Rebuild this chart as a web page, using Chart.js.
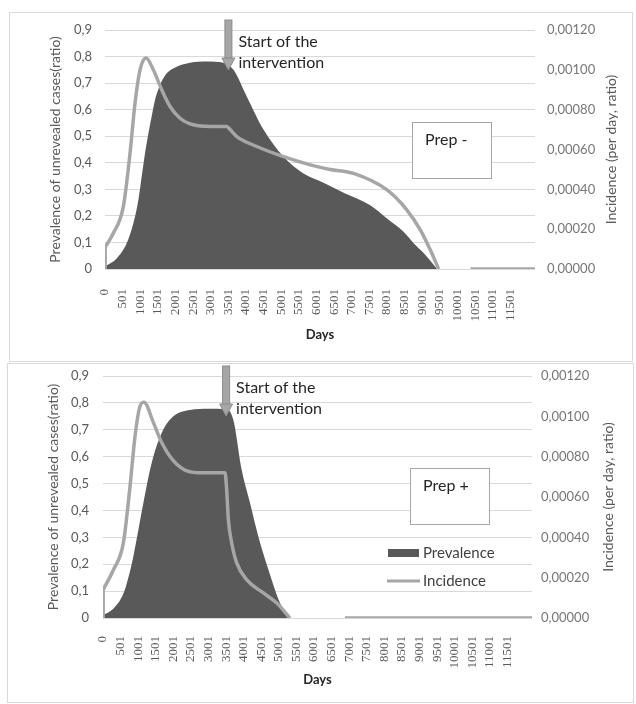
<!DOCTYPE html>
<html>
<head>
<meta charset="utf-8">
<script src="https://cdn.jsdelivr.net/npm/chart.js@4.4.0/dist/chart.umd.min.js"></script>
<style>
  body { margin: 0; background: #fff; width: 636px; height: 704px; position: relative; overflow: hidden; }
  .box { position: absolute; border: 1px solid #d9d9d9; box-sizing: border-box; background: #fff; }
  canvas { position: absolute; left: 0; top: 0; }
</style>
</head>
<body>
<div class="box" style="left:9px;top:12px;width:624px;height:350px"><canvas id="topChart" width="622" height="348"></canvas></div>
<div class="box" style="left:7px;top:363px;width:627px;height:340px"><canvas id="bottomChart" width="625" height="338"></canvas></div>
<script>
// x axis (days)
const tickDays = [0, 501, 1001, 1501, 2001, 2501, 3001, 3501, 4001, 4501, 5001, 5501,
  6001, 6501, 7001, 7501, 8001, 8501, 9001, 9501, 10001, 10501, 11001, 11501];
const tickLabels = ['0', '501', '1001', '1501', '2001', '2501', '3001', '3501', '4001', '4501', '5001', '5501',
  '6001', '6501', '7001', '7501', '8001', '8501', '9001', '9501', '10001', '10501', '11001', '11501'];
const lastDay = 12200;
const interventionDay = 3501;

// Prep - : prevalence (left axis)
const minusPrevDays = [0, 331, 615, 805, 947, 1041, 1136, 1231, 1325, 1420, 1562, 1751, 2035, 2414, 2888, 3360,
  3645, 4024, 4500, 5064, 5632, 6200, 6800, 7526, 8000, 8470, 8757, 9040, 9420];
const minusPrev = [0.01, 0.04, 0.097, 0.172, 0.26, 0.348, 0.436, 0.51, 0.575, 0.637, 0.693, 0.737, 0.762, 0.777, 0.781, 0.777,
  0.75, 0.649, 0.524, 0.423, 0.36, 0.325, 0.285, 0.24, 0.19, 0.14, 0.097, 0.06, 0];
// Prep - : incidence (right axis)
const minusIncDays = [0, 5, 236, 520, 710, 852, 994, 1164, 1372, 1610, 1846, 2130, 2508, 3000, 3450, 3550, 3740,
  4308, 5064, 5822, 6390, 7052, 8000, 8568, 8946, 9230, 9466, 9600, 10370, 12200];
const minusInc = [0, 0.00011, 0.000179, 0.000313, 0.000581, 0.000833, 0.001, 0.00106, 0.001, 0.0009, 0.000816, 0.000757,
  0.000724, 0.000716, 0.000715, 0.0007, 0.000665, 0.000615, 0.000564, 0.000523, 0.0005, 0.00048, 0.000397, 0.000296,
  0.000196, 0.000095, 0, null, 0, 0];

// Prep + : prevalence (left axis)
const plusPrevDays = [0, 300, 578, 720, 862, 1147, 1384, 1669, 2000, 2474, 3000, 3518, 3706, 3944, 4181, 4418, 4702, 5034, 5318];
const plusPrev = [0.01, 0.035, 0.09, 0.15, 0.228, 0.427, 0.576, 0.688, 0.75, 0.774, 0.778, 0.775, 0.737, 0.551, 0.428, 0.303, 0.18, 0.056, 0];
// Prep + : incidence (right axis)
const plusIncDays = [0, 5, 294, 578, 768, 910, 1052, 1166, 1431, 1669, 2000, 2380, 2853, 3470, 3517, 3565, 3660,
  3802, 4087, 4560, 4940, 5318, 5400, 6880, 12200];
const plusInc = [0, 0.00014, 0.000238, 0.000371, 0.000652, 0.0009, 0.00105, 0.00107, 0.00097, 0.00087, 0.00078, 0.00073,
  0.00072, 0.00072, 0.000635, 0.000488, 0.000372, 0.000273, 0.00019, 0.000124, 0.000074, 0, null, 0, 0];

Chart.defaults.font.family = 'Lato';

function pts(days, vals) {
  return days.map((d, i) => ({ x: d, y: vals[i] }));
}

const notesPlugin = {
  id: 'notes',
  afterDatasetsDraw(chart, args, opts) {
    const { ctx, chartArea: a } = chart;
    const ax = chart.scales.x.getPixelForValue(interventionDay);
    ctx.save();
    // arrow
    ctx.fillStyle = '#a6a6a6';
    ctx.strokeStyle = '#8c8c8c';
    ctx.lineWidth = 1;
    ctx.fillRect(ax - 3.5, a.top - 10, 7, 38);
    ctx.strokeRect(ax - 3.5, a.top - 10, 7, 38);
    ctx.beginPath();
    ctx.moveTo(ax - 6.5, a.top + 28);
    ctx.lineTo(ax + 6.5, a.top + 28);
    ctx.lineTo(ax, a.top + 40);
    ctx.closePath();
    ctx.fill();
    ctx.stroke();
    // arrow text
    ctx.fillStyle = '#262626';
    ctx.font = '16px Lato';
    ctx.textBaseline = 'middle';
    ctx.textAlign = 'left';
    ctx.fillText('Start of the', ax + 10, a.top + 12);
    ctx.fillText('intervention', ax + 10, a.top + 33);
    // Prep box
    ctx.fillStyle = '#fff';
    ctx.strokeStyle = '#a6a6a6';
    ctx.fillRect(a.left + 307, a.top + 92, 79, 56);
    ctx.strokeRect(a.left + 307.5, a.top + 92.5, 79, 56);
    ctx.fillStyle = '#262626';
    ctx.font = '16px Lato';
    ctx.fillText(opts.label, a.left + 320, a.top + 110);
    // legend
    if (opts.legend) {
      ctx.fillStyle = '#595959';
      ctx.fillRect(a.left + 285, a.top + 173, 31, 8);
      ctx.strokeStyle = '#a6a6a6';
      ctx.lineWidth = 3;
      ctx.beginPath();
      ctx.moveTo(a.left + 284, a.top + 205);
      ctx.lineTo(a.left + 317, a.top + 205);
      ctx.stroke();
      ctx.fillStyle = '#404040';
      ctx.font = '15px Lato';
      ctx.fillText('Prevalence', a.left + 320, a.top + 177);
      ctx.fillText('Incidence', a.left + 320, a.top + 205);
    }
    // right axis title, reading bottom to top
    ctx.translate(a.right + 76, (a.top + a.bottom) / 2);
    ctx.rotate(-Math.PI / 2);
    ctx.textAlign = 'center';
    ctx.fillStyle = '#595959';
    ctx.font = '14px Lato';
    ctx.fillText('Incidence (per day, ratio)', 0, 0);
    ctx.restore();
  }
};

function makeChart(id, p) {
  const incLine = {
    yAxisID: 'y1',
    borderColor: '#a6a6a6',
    borderWidth: 3.5,
    pointRadius: 0,
    fill: false
  };
  return new Chart(document.getElementById(id), {
    type: 'line',
    data: {
      datasets: [Object.assign({
        label: 'Incidence',
        data: pts(p.incDays.slice(1), p.inc.slice(1)),
        cubicInterpolationMode: 'monotone',
        order: 0
      }, incLine), Object.assign({
        label: 'Incidence start',
        data: pts(p.incDays.slice(0, 2), p.inc.slice(0, 2)),
        tension: 0,
        order: 0
      }, incLine), {
        label: 'Prevalence',
        data: pts(p.prevDays, p.prev),
        yAxisID: 'y',
        borderColor: 'rgba(0,0,0,0)',
        borderWidth: 0,
        backgroundColor: '#595959',
        fill: 'origin',
        pointRadius: 0,
        cubicInterpolationMode: 'monotone',
        order: 1
      }]
    },
    options: {
      responsive: false,
      animation: false,
      layout: { padding: { top: p.top, left: 0, right: 0, bottom: 0 } },
      plugins: {
        legend: { display: false },
        tooltip: { enabled: false },
        notes: { label: p.label, legend: p.legend }
      },
      scales: {
        x: {
          type: 'linear',
          min: 0,
          max: lastDay,
          afterBuildTicks: s => { s.ticks = tickDays.map(v => ({ value: v })); },
          afterFit: s => { s.height = p.xHeight; s.paddingLeft = 0; s.paddingRight = 0; },
          grid: { display: false },
          border: { display: false },
          ticks: {
            autoSkip: false,
            minRotation: 90,
            maxRotation: 90,
            padding: p.xPad,
            color: '#595959',
            font: { family: 'Liberation Serif', size: 13 },
            callback: v => tickLabels[tickDays.indexOf(v)]
          },
          title: {
            display: true, text: 'Days', color: '#262626',
            font: { family: 'Lato', size: 13, weight: 'bold' },
            padding: { top: 0, bottom: p.daysPad }
          }
        },
        y: {
          position: 'left',
          min: 0,
          max: 0.9,
          afterFit: s => { s.width = 95; s.paddingTop = 0; s.paddingBottom = 0; },
          grid: { color: '#d9d9d9', drawTicks: false },
          border: { display: false },
          ticks: {
            stepSize: 0.1,
            padding: p.leftPad,
            color: '#595959',
            font: { size: 13 },
            callback: v => v === 0 ? '0' : v.toFixed(1).replace('.', ',')
          },
          title: {
            display: true, text: 'Prevalence of unrevealed cases(ratio)', color: '#595959',
            font: { size: 14 }, padding: { top: p.leftTitlePad, bottom: 0 }
          }
        },
        y1: {
          position: 'right',
          min: 0,
          max: 0.0012,
          afterFit: s => { s.width = p.rightWidth; s.paddingTop = 0; s.paddingBottom = 0; },
          grid: { display: false, drawTicks: false },
          border: { display: false },
          ticks: {
            stepSize: 0.0002,
            padding: p.rightPad,
            color: '#767676',
            font: { size: 13 },
            callback: v => v.toFixed(5).replace('.', ',')
          },
          title: { display: false }
        }
      }
    },
    plugins: [notesPlugin]
  });
}

makeChart('topChart', {
  prevDays: minusPrevDays, prev: minusPrev, incDays: minusIncDays, inc: minusInc,
  label: 'Prep -', legend: false,
  top: 17, xHeight: 92, xPad: 12, daysPad: 18, leftPad: 13, leftTitlePad: 37,
  rightWidth: 97, rightPad: 12
});

makeChart('bottomChart', {
  prevDays: plusPrevDays, prev: plusPrev, incDays: plusIncDays, inc: plusInc,
  label: 'Prep +', legend: true,
  top: 12, xHeight: 84, xPad: 10, daysPad: 14, leftPad: 14, leftTitlePad: 37,
  rightWidth: 101, rightPad: 9
});
</script>
</body>
</html>
